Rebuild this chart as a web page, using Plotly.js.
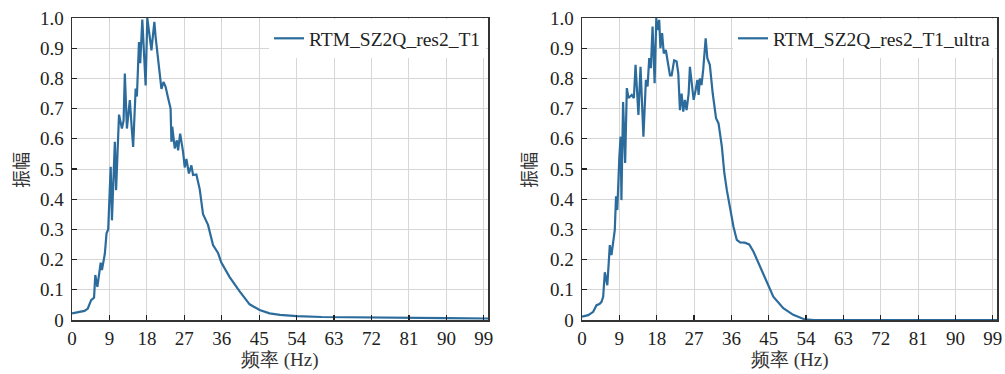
<!DOCTYPE html>
<html>
<head>
<meta charset="utf-8">
<script src="https://cdn.plot.ly/plotly-3.0.1.min.js"></script>
<style>
html,body{margin:0;padding:0;background:#fff;}
#chart{width:1005px;height:374px;}
</style>
</head>
<body>
<div id="chart"></div>
<script>
// Left panel: RTM_SZ2Q_res2_T1
const freqLeft = [0,1.5,3,3.8,4.6,5.3,5.6,6.1,6.9,7.2,7.9,8.3,8.7,9.3,9.6,10.3,10.6,11.3,12.0,12.4,12.7,13.2,13.9,14.4,14.7,15.3,15.6,16.1,16.4,16.9,17.4,17.7,18.1,18.7,19.1,19.5,19.8,20.1,20.5,20.9,21.5,22.0,22.5,23.1,23.7,23.9,24.1,24.7,25.2,25.5,26.0,26.7,27.1,27.5,28.1,28.7,29.1,29.9,30.7,31.5,32.7,33.9,35.1,35.9,37.9,40.3,42.7,45.1,47.5,50,54,60,70,80,90,100];
const ampLeft = [0.022,0.025,0.03,0.038,0.066,0.074,0.149,0.11,0.19,0.165,0.22,0.287,0.30,0.507,0.33,0.59,0.43,0.68,0.634,0.66,0.816,0.634,0.728,0.628,0.573,0.766,0.74,0.92,0.85,0.995,0.86,0.777,1.0,0.937,0.893,0.948,0.987,0.937,0.882,0.838,0.765,0.788,0.772,0.735,0.70,0.59,0.64,0.568,0.595,0.562,0.617,0.557,0.505,0.533,0.485,0.512,0.48,0.482,0.433,0.35,0.315,0.248,0.222,0.19,0.142,0.095,0.052,0.033,0.022,0.017,0.013,0.01,0.008,0.007,0.006,0.005];

// Right panel: RTM_SZ2Q_res2_T1_ultra
const freqRight = [0,1.5,2.7,3.5,4.2,4.7,5.1,5.5,6.1,6.7,7.1,7.5,7.9,8.2,8.5,9.0,9.3,9.5,9.9,10.4,10.8,11.2,12.0,12.5,12.9,13.6,14.1,14.8,15.4,15.8,16.2,16.6,17.0,17.5,17.9,18.2,18.6,18.9,19.3,19.7,20.2,20.6,21.2,21.6,22.2,22.8,23.2,23.6,24.0,24.4,24.8,25.2,25.7,26.0,26.5,26.9,27.4,27.8,28.1,28.4,28.8,29.2,29.8,30.2,30.8,31.5,32.3,32.9,33.7,34.3,34.9,35.7,36.5,37.3,38.1,39.2,40.3,41.3,42.9,44.5,46.1,48.5,50.9,53.7,56,60,70,80,90,100];
const ampRight = [0.011,0.016,0.027,0.049,0.053,0.06,0.077,0.158,0.115,0.248,0.215,0.254,0.298,0.41,0.364,0.54,0.607,0.397,0.722,0.52,0.768,0.735,0.745,0.735,0.845,0.679,0.838,0.607,0.795,0.773,0.867,0.834,0.972,0.784,1.0,0.96,0.994,0.9,0.95,0.883,0.894,0.86,0.81,0.81,0.86,0.856,0.817,0.695,0.75,0.69,0.729,0.695,0.75,0.838,0.784,0.729,0.762,0.795,0.745,0.8,0.778,0.828,0.933,0.867,0.845,0.75,0.668,0.651,0.574,0.486,0.43,0.364,0.309,0.265,0.257,0.256,0.25,0.227,0.177,0.122,0.077,0.039,0.017,0.002,0,0,0,0,0,0];

const seriesNames = ['RTM_SZ2Q_res2_T1', 'RTM_SZ2Q_res2_T1_ultra'];
const xTickVals = [0,9,18,27,36,45,54,63,72,81,90,99];
const yTickVals = [0,0.1,0.2,0.3,0.4,0.5,0.6,0.7,0.8,0.9,1.0];
const yTickText = ['0','0.1','0.2','0.3','0.4','0.5','0.6','0.7','0.8','0.9','1.0'];
const xTitle = '频率 (Hz)';
const yTitle = '振幅';

const W = 1005, H = 374;
const lineColor = '#2c6c9c';
const serif = 'Liberation Serif';
const tickFont = {family: serif, size: 19, color: '#222'};

const plotTop = 18, plotBottom = 320;
const leftDom = [72/W, 488/W];
const rightDom = [582/W, 997/W];
const yDom = [(H-plotBottom)/H, (H-plotTop)/H];

function xAxis(dom, anchor) {
  return {
    domain: dom, anchor: anchor, range: [0, 100],
    tickvals: xTickVals, ticktext: xTickVals.map(String),
    ticks: 'inside', ticklen: 5, tickwidth: 1.2, tickcolor: '#222',
    showgrid: true, gridcolor: '#d6d6d6', gridwidth: 1,
    showline: true, mirror: true, linecolor: '#333', linewidth: 1.5,
    zeroline: false, tickfont: tickFont, ticklabelstandoff: 1,
    fixedrange: true
  };
}
function yAxis(anchor) {
  return {
    domain: yDom, anchor: anchor, range: [0, 1],
    tickvals: yTickVals, ticktext: yTickText,
    ticks: 'inside', ticklen: 5, tickwidth: 1.2, tickcolor: '#222',
    showgrid: true, gridcolor: '#d6d6d6', gridwidth: 1,
    showline: true, mirror: true, linecolor: '#333', linewidth: 1.5,
    zeroline: false, tickfont: tickFont, ticklabelstandoff: 3,
    fixedrange: true
  };
}

const traces = [
  {x: freqLeft, y: ampLeft, type: 'scatter', mode: 'lines', name: seriesNames[0],
   line: {color: lineColor, width: 2.2}, xaxis: 'x', yaxis: 'y', legend: 'legend'},
  {x: freqRight, y: ampRight, type: 'scatter', mode: 'lines', name: seriesNames[1],
   line: {color: lineColor, width: 2.2}, xaxis: 'x2', yaxis: 'y2', legend: 'legend2'}
];

const legendBase = {
  yanchor: 'top', xanchor: 'right', y: yDom[1] - 0.003,
  bgcolor: 'rgba(255,255,255,1)', borderwidth: 0,
  font: {family: serif, size: 19.5, color: '#222'},
  itemwidth: 30, tracegroupgap: 0
};

const layout = {
  width: W, height: H,
  margin: {l: 0, r: 0, t: 0, b: 0},
  paper_bgcolor: '#fff', plot_bgcolor: '#fff',
  showlegend: true,
  xaxis: xAxis(leftDom, 'y'),
  yaxis: yAxis('x'),
  xaxis2: xAxis(rightDom, 'y2'),
  yaxis2: yAxis('x2'),
  legend: Object.assign({}, legendBase, {x: leftDom[1] - 0.002}),
  legend2: Object.assign({}, legendBase, {x: rightDom[1] - 0.002}),
  annotations: [
    {text: yTitle, xref: 'paper', yref: 'paper', x: 20/W, y: (H-170)/H, textangle: -90,
     xanchor: 'center', yanchor: 'middle',
     showarrow: false, font: {family: 'Noto Sans CJK SC', size: 18, color: '#333'}},
    {text: yTitle, xref: 'paper', yref: 'paper', x: 528/W, y: (H-170)/H, textangle: -90,
     xanchor: 'center', yanchor: 'middle',
     showarrow: false, font: {family: 'Noto Sans CJK SC', size: 18, color: '#333'}},
    {text: xTitle, xref: 'paper', yref: 'paper', x: 280/W, y: (H-360)/H,
     xanchor: 'center', yanchor: 'middle',
     showarrow: false, font: {family: serif, size: 19, color: '#333'}},
    {text: xTitle, xref: 'paper', yref: 'paper', x: 790/W, y: (H-360)/H,
     xanchor: 'center', yanchor: 'middle',
     showarrow: false, font: {family: serif, size: 19, color: '#333'}}
  ]
};

Plotly.newPlot('chart', traces, layout, {displayModeBar: false, staticPlot: true});
</script>
</body>
</html>
